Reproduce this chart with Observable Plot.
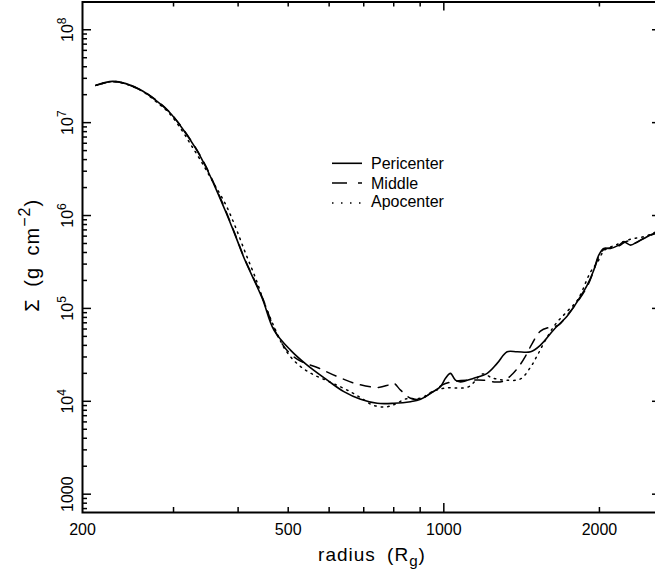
<!DOCTYPE html>
<html><head><meta charset="utf-8">
<script src="https://cdn.jsdelivr.net/npm/d3@7"></script>
<script src="https://cdn.jsdelivr.net/npm/@observablehq/plot@0.6"></script>
<style>
body{margin:0;background:#fff;}
#wrap{position:relative;width:655px;height:580px;overflow:hidden;}
#legend{position:absolute;left:0;top:0;}
</style>
</head><body><div id="wrap"></div>
<script>
// ---- data ----
const radiusPeri = [212.3, 228.7, 242.6, 261.4, 277.3, 294.4, 312.3, 331.4, 346.5, 362.2, 378.7, 396.0, 411.1, 445.5, 469.2, 505.1, 544.1, 595.0, 640.7, 690.2, 743.4, 800.4, 862.2, 901.5, 942.6, 985.4, 1007.6, 1030, 1053, 1077, 1143, 1213, 1268, 1326, 1387, 1472, 1538, 1632, 1733, 1811, 1894, 1950, 1994, 2039, 2101, 2181, 2230, 2297, 2367, 2437, 2548, 2640];
const sigmaPeri  = [2.52e7, 2.78e7, 2.63e7, 2.19e7, 1.74e7, 1.30e7, 8.61e6, 5.25e6, 3.33e6, 1.95e6, 1.09e6, 5.89e5, 3.45e5, 1.28e5, 5.85e4, 3.56e4, 2.45e4, 1.69e4, 1.27e4, 1.05e4, 9.51e3, 9.51e3, 9.90e3, 1.05e4, 1.22e4, 1.44e4, 1.77e4, 2.00e4, 1.69e4, 1.62e4, 1.77e4, 2.00e4, 2.56e4, 3.41e4, 3.41e4, 3.41e4, 4.03e4, 5.9e4, 8.3e4, 1.18e5, 1.78e5, 2.58e5, 3.74e5, 4.42e5, 4.42e5, 4.80e5, 5.20e5, 4.80e5, 5.20e5, 5.66e5, 6.40e5, 6.6e5];

const radiusMid = [212.3, 228.7, 242.6, 261.4, 277.3, 294.4, 312.3, 331.4, 346.5, 362.2, 378.7, 396.0, 411.1, 446.1, 469, 485.5, 505.1, 528.1, 572.3, 625.7, 684.0, 747.7, 781.7, 799.3, 824.6, 862.2, 901.5, 951, 994, 1053, 1126, 1193, 1259, 1305, 1358, 1395, 1439, 1484, 1538, 1608, 1667, 1727, 1811, 1894, 1950, 1994, 2039, 2101, 2181, 2260, 2330, 2437, 2548, 2640];
const sigmaMid  = [2.52e7, 2.76e7, 2.62e7, 2.2e7, 1.76e7, 1.31e7, 8.7e6, 5.3e6, 3.4e6, 2.0e6, 1.12e6, 6.0e5, 3.5e5, 1.29e5, 6.14e4, 4.24e4, 3.23e4, 2.71e4, 2.28e4, 1.82e4, 1.52e4, 1.41e4, 1.50e4, 1.57e4, 1.32e4, 1.08e4, 1.06e4, 1.26e4, 1.50e4, 1.65e4, 1.69e4, 1.69e4, 1.61e4, 1.65e4, 1.97e4, 2.34e4, 3.07e4, 4.24e4, 5.70e4, 6.30e4, 6.61e4, 8.26e4, 1.16e5, 1.72e5, 2.55e5, 3.6e5, 4.3e5, 4.5e5, 4.7e5, 5.3e5, 5.0e5, 5.7e5, 6.3e5, 6.7e5];

const radiusApo = [212.3, 228.7, 242.6, 261.4, 277.3, 294.4, 312.3, 323.7, 338.4, 356.9, 378.3, 395.5, 413.5, 432.3, 452.0, 472.6, 494.0, 521.2, 552.3, 590.5, 631.2, 666.0, 696.3, 728.0, 771.4, 806.5, 843.3, 901.5, 955.2, 1007.6, 1116, 1188, 1242, 1316, 1407, 1472, 1518, 1573, 1645, 1727, 1814, 1922, 1983, 2046, 2148, 2297, 2455, 2567, 2640];
const sigmaApo  = [2.52e7, 2.78e7, 2.61e7, 2.17e7, 1.69e7, 1.26e7, 8.06e6, 5.85e6, 3.93e6, 2.34e6, 1.32e6, 7.48e5, 3.93e5, 2.12e5, 1.06e5, 5.85e4, 3.56e4, 2.52e4, 2.01e4, 1.69e4, 1.43e4, 1.23e4, 1.06e4, 9.12e3, 8.69e3, 9.35e3, 1.06e4, 1.08e4, 1.29e4, 1.39e4, 1.43e4, 1.97e4, 1.78e4, 1.69e4, 1.74e4, 2.34e4, 3.15e4, 4.56e4, 6.78e4, 9.12e4, 1.23e5, 2.46e5, 3.15e5, 4.24e5, 4.80e5, 5.56e5, 5.98e5, 6.61e5, 6.9e5];

const seriesNames = ["Pericenter", "Middle", "Apocenter"];

const xTickLabels = [200, 500, 1000, 2000];
const xMajorTicks = [1000];
const xMinorTicks = [300, 400, 500, 600, 700, 800, 900, 2000];
const yTickValues = [1e3, 1e4, 1e5, 1e6, 1e7, 1e8];
const yTickLabels = ["1000", "10^4", "10^5", "10^6", "10^7", "10^8"];
const yMinorMultipliers = [2, 3, 4, 5, 6, 7, 8, 9];
const yDecades = [1e2, 1e3, 1e4, 1e5, 1e6, 1e7, 1e8];

const xTitle = "radius (R_g)";
const yTitle = "Σ (g cm^−2)";

// ---- layout ----
const W = 655, H = 580, mL = 82, mR = -6, mT = 1.5, mB = 68;
const innerH = H - mT - mB, innerW = W - mL - mR;
const xDomain = [200, 2637], yDomain = [635, 1.99e8];
const FONT = "'Liberation Sans', Arial, Helvetica, sans-serif";

const peri = radiusPeri.map((r, i) => ({r, s: sigmaPeri[i]}));
const mid = radiusMid.map((r, i) => ({r, s: sigmaMid[i]}));
const apo = radiusApo.map((r, i) => ({r, s: sigmaApo[i]}));
const yMinor = yDecades.flatMap(d => yMinorMultipliers.map(m => m * d)).filter(v => v >= yDomain[0] && v <= yDomain[1]);
const yLabelData = yTickValues.map((v, i) => ({v, label: yTickLabels[i]}));

const tickStyle = {stroke: "black", strokeWidth: 1.5};

const chart = Plot.plot({
  width: W, height: H,
  marginLeft: mL, marginRight: mR, marginTop: mT, marginBottom: mB,
  style: {fontFamily: FONT, fontSize: "16px", color: "black", background: "white"},
  x: {type: "log", domain: xDomain, axis: null},
  y: {type: "log", domain: yDomain, axis: null},
  marks: [
    Plot.line(apo, {x: "r", y: "s", stroke: "black", strokeWidth: 1.5, strokeDasharray: "1.5,5", curve: "catmull-rom"}),
    Plot.line(mid, {x: "r", y: "s", stroke: "black", strokeWidth: 1.5, strokeDasharray: "10,8", curve: "catmull-rom"}),
    Plot.line(peri, {x: "r", y: "s", stroke: "black", strokeWidth: 1.6, curve: "catmull-rom"}),
    // ticks (inward)
    Plot.tickX(xMinorTicks, {x: d => d, insetTop: innerH - 5, ...tickStyle}),
    Plot.tickX(xMinorTicks, {x: d => d, insetBottom: innerH - 5, ...tickStyle}),
    Plot.tickX(xMajorTicks, {x: d => d, insetTop: innerH - 9, ...tickStyle}),
    Plot.tickX(xMajorTicks, {x: d => d, insetBottom: innerH - 9, ...tickStyle}),
    Plot.tickY(yMinor, {y: d => d, insetRight: innerW - 5, ...tickStyle}),
    Plot.tickY(yMinor, {y: d => d, insetLeft: innerW - 5, ...tickStyle}),
    Plot.tickY(yTickValues, {y: d => d, insetRight: innerW - 9, ...tickStyle}),
    Plot.tickY(yTickValues, {y: d => d, insetLeft: innerW - 9, ...tickStyle}),
    Plot.frame({stroke: "black", strokeWidth: 2}),
    // tick labels
    Plot.text(xTickLabels, {x: d => d, text: d => String(d), frameAnchor: "bottom", dy: 22, lineAnchor: "bottom", fontSize: 16, fill: "black"}),
    Plot.text(yLabelData, {y: "v", text: "label", frameAnchor: "left", dx: -10, rotate: -90, lineAnchor: "bottom", textAnchor: "middle", fontSize: 16, fill: "black"}),
    // titles
    Plot.text([xTitle], {text: d => d, frameAnchor: "bottom", dy: 48, lineAnchor: "bottom", textAnchor: "middle", fontSize: 19, fill: "black"}),
    Plot.text([yTitle], {text: d => d, frameAnchor: "left", dx: -44, dy: -2, rotate: -90, lineAnchor: "bottom", textAnchor: "middle", fontSize: 20, fill: "black"})
  ]
});

// rich text: ^ superscript, _ subscript
d3.select(chart).selectAll("text").each(function() {
  const t = this.textContent;
  const m = t.match(/^(.*?)([\^_])([^)\s]+)(.*)$/);
  if (!m) return;
  const fs = parseFloat(d3.select(this).attr("font-size")) || parseFloat(this.parentNode.getAttribute("font-size")) || 16;
  const sup = m[2] === "^";
  const isTitle = /\s/.test(t);
  const shift = sup ? -0.42 * fs : 0.3 * fs;
  const el = d3.select(this);
  if (isTitle) el.attr("letter-spacing", 1).attr("word-spacing", 5);
  el.text("");
  el.append("tspan").text(m[1]);
  el.append("tspan").attr("dy", shift).attr("font-size", (isTitle ? 0.8 : 0.75) * fs).text(m[3]);
  if (m[4]) el.append("tspan").attr("dy", -shift).text(m[4]);
});

const wrap = d3.select("#wrap");
wrap.node().appendChild(chart);

// legend
const leg = wrap.append("svg").attr("id", "legend").attr("width", W).attr("height", H)
  .style("pointer-events", "none");
const legItems = [
  {name: seriesNames[0], dash: null, ly: 163.3, ty: 168.5},
  {name: seriesNames[1], dash: "15,11", ly: 183, ty: 188.5},
  {name: seriesNames[2], dash: "1.5,7.5", ly: 203, ty: 207}
];
legItems.forEach(d => {
  leg.append("line").attr("x1", 332).attr("x2", 362).attr("y1", d.ly).attr("y2", d.ly)
    .attr("stroke", "black").attr("stroke-width", 1.6).attr("stroke-dasharray", d.dash);
  leg.append("text").attr("x", 371).attr("y", d.ty).attr("font-family", FONT).attr("font-size", 16)
    .attr("fill", "black").text(d.name);
});
</script>
</body></html>
